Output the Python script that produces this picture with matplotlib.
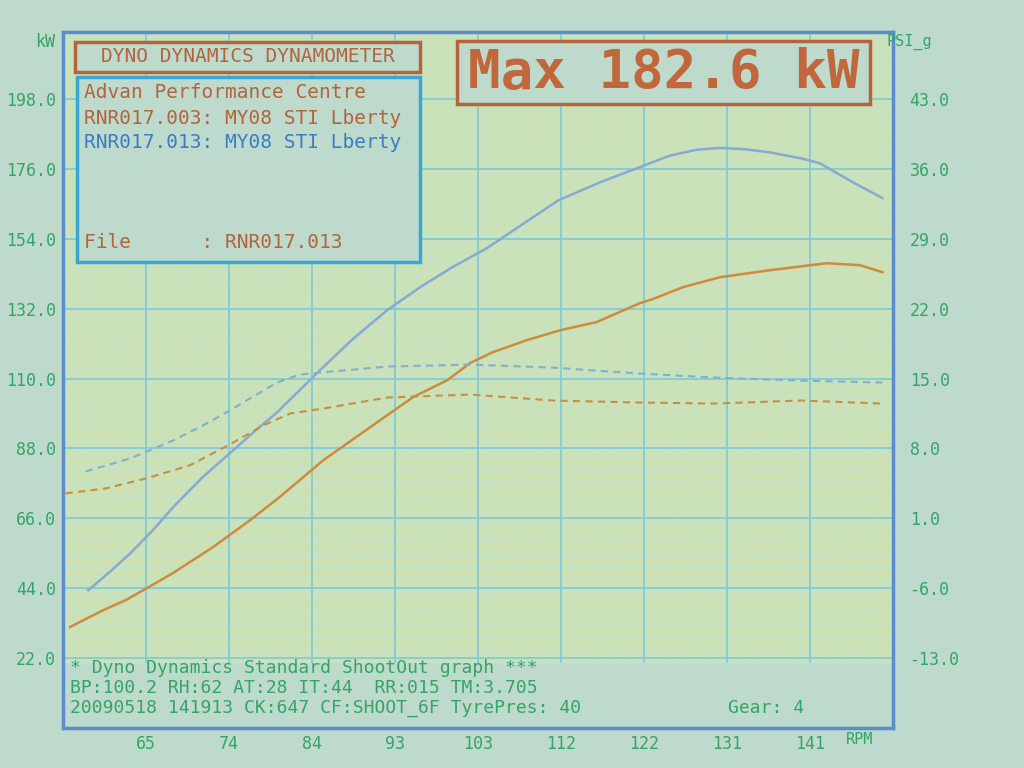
import matplotlib.pyplot as plt
from matplotlib.patches import Rectangle

# speed axis (labelled RPM on the dyno sheet)
x_ticks = [65, 74.5, 84, 93.5, 103, 112.5, 122, 131.5, 141]
x_labels = ['65', '74', '84', '93', '103', '112', '122', '131', '141']
kw_ticks = [22, 44, 66, 88, 110, 132, 154, 176, 198]
psi_ticks = [-13, -6, 1, 8, 15, 22, 29, 36, 43]

# run RNR017.013 (blue) - power kW
blue_x = [58.4, 61.0, 63.2, 65.8, 68.1, 71.5, 74.6, 77.6, 79.9, 82.1, 84.9, 88.7, 92.6,
          96.4, 100.1, 104.0, 107.8, 112.2, 117.0, 121.0, 125.0, 128.0, 130.7, 133.5,
          136.4, 140.0, 142.1, 145.9, 149.3]
blue_kw = [43.4, 49.5, 55.0, 62.3, 69.5, 79.0, 86.5, 93.8, 99.1, 105.0, 112.6, 122.5, 131.5,
           138.8, 145.1, 151.0, 158.0, 166.1, 171.8, 176.0, 180.2, 182.0, 182.6, 182.2,
           181.2, 179.3, 177.8, 171.8, 166.8]

# run RNR017.003 (orange) - power kW
orange_x = [56.3, 60.1, 62.7, 64.7, 68.1, 72.7, 76.9, 80.3, 85.3, 91.8, 95.6, 99.5,
            102.1, 104.7, 108.6, 112.4, 116.6, 121.5, 123.0, 126.5, 130.7, 136.4, 142.9,
            146.7, 149.3]
orange_kw = [31.8, 37.1, 40.3, 43.4, 48.8, 57.0, 65.4, 72.7, 84.3, 96.9, 104.2, 109.5,
             114.9, 118.3, 122.1, 125.2, 127.8, 133.7, 135.0, 138.8, 141.9, 144.1, 146.3,
             145.7, 143.5]

# boost PSI_g (dashed)
blue_boost_x = [58.1, 63.2, 68.1, 71.5, 74.6, 76.1, 80.0, 82.6, 84.9, 92.6, 102.1,
                111.6, 121.5, 130.2, 139.9, 149.3]
blue_boost = [5.7, 7.0, 8.8, 10.3, 11.8, 12.6, 14.6, 15.4, 15.6, 16.2, 16.4,
              16.1, 15.5, 15.1, 14.8, 14.6]
orange_boost_x = [55.8, 60.4, 65.0, 70.0, 74.6, 78.4, 81.5, 85.3, 92.6, 102.1,
                  111.6, 121.5, 130.2, 139.9, 149.3]
orange_boost = [3.5, 4.0, 5.0, 6.3, 8.4, 10.3, 11.5, 12.0, 13.1, 13.4,
                12.8, 12.6, 12.5, 12.8, 12.5]

bg = '#bddacd'
plot_bg = '#c9e2bb'
green = '#34a468'
brown = '#b5633a'
blue_txt = '#3c7cc2'
frame = '#5b8ccc'
mono = 'DejaVu Sans Mono'


def kw_to_psi(v):
    return (v - 22) * 7 / 22 - 13


fig = plt.figure(figsize=(10.24, 7.68), dpi=100, facecolor=bg)
ax = fig.add_axes([0.0615, 0.052, 0.8105, 0.906])
ax.set_facecolor(plot_bg)
ax.set_xlim(55.5, 150.5)
ax.set_ylim(0, 219)

# grid
for v in range(1, 50):
    ax.axhline(v * 4.4, color='#dcdf8c', lw=1, ls=(0, (2, 2)), zorder=0.5)
for v in kw_ticks:
    ax.axhline(v, color='#80cbd8', lw=1.3, zorder=0.6)
for v in x_ticks:
    ax.axvline(v, color='#80cbd8', lw=1.3, zorder=0.6)
# plain strip behind the info text
ax.add_patch(Rectangle((55.5, 0), 95, 20.5, facecolor=bg, edgecolor='none', zorder=0.8))

ax.plot(blue_x, blue_kw, color='#86aad4', lw=1.8, zorder=3)
ax.plot(orange_x, orange_kw, color='#cf8a3e', lw=1.8, zorder=3)

ax.set_xticks(x_ticks)
ax.set_xticklabels(x_labels, family=mono, fontsize=12, color=green)
ax.set_yticks(kw_ticks)
ax.set_yticklabels([f'{v:.1f}' for v in kw_ticks], family=mono, fontsize=12, color=green)
ax.tick_params(length=0, pad=5)
for s in ax.spines.values():
    s.set_color(frame)
    s.set_linewidth(2.5)

ax2 = ax.twinx()
ax2.set_ylim(kw_to_psi(0), kw_to_psi(219))
ax2.plot(blue_boost_x, blue_boost, color='#84aed2', lw=1.5, ls=(0, (3.5, 2.5)), zorder=3)
ax2.plot(orange_boost_x, orange_boost, color='#c8903e', lw=1.5, ls=(0, (3.5, 2.5)), zorder=3)
ax2.set_yticks(psi_ticks)
ax2.set_yticklabels([f'{v:.1f}' for v in psi_ticks], family=mono, fontsize=12, color=green)
ax2.tick_params(length=0, pad=12)
for s in ax2.spines.values():
    s.set_visible(False)

# axis captions
fig.text(0.044, 0.945, 'kW', family=mono, fontsize=12, color=green, ha='center', va='center')
fig.text(0.866, 0.945, 'PSI_g', family=mono, fontsize=11, color=green, ha='left', va='center')
fig.text(0.826, 0.037, 'RPM', family=mono, fontsize=11, color=green, ha='left', va='center')

# title box
fig.patches.append(Rectangle((75 / 1024, 1 - 72 / 768), 345 / 1024, 30 / 768, transform=fig.transFigure,
                             facecolor=bg, edgecolor=brown, lw=2.5, zorder=5))
fig.text(248 / 1024, 1 - 57 / 768, 'DYNO DYNAMICS DYNAMOMETER', family=mono, fontsize=14,
         color=brown, ha='center', va='center', zorder=6)

# info box
fig.patches.append(Rectangle((77 / 1024, 1 - 262 / 768), 343 / 1024, 185 / 768, transform=fig.transFigure,
                             facecolor=bg, edgecolor='#3aa6d4', lw=2.5, zorder=5))
info = [('Advan Performance Centre', brown, 92),
        ('RNR017.003: MY08 STI Lberty', brown, 119),
        ('RNR017.013: MY08 STI Lberty', blue_txt, 143),
        ('File      : RNR017.013', brown, 243)]
for txt, col, yy in info:
    fig.text(84 / 1024, 1 - yy / 768, txt, family=mono, fontsize=14, color=col,
             ha='left', va='center', zorder=6)

# max box
fig.patches.append(Rectangle((457 / 1024, 1 - 104 / 768), 413 / 1024, 63 / 768, transform=fig.transFigure,
                             facecolor=bg, edgecolor=brown, lw=2.5, zorder=5))
fig.text(664 / 1024, 1 - 73 / 768, 'Max 182.6 kW', family=mono, fontsize=39, fontweight='bold',
         color='#c0673c', ha='center', va='center', zorder=6)

# run info lines
lines = ['* Dyno Dynamics Standard ShootOut graph ***',
         'BP:100.2 RH:62 AT:28 IT:44  RR:015 TM:3.705',
         '20090518 141913 CK:647 CF:SHOOT_6F TyrePres: 40']
for i, txt in enumerate(lines):
    fig.text(70 / 1024, 1 - (668 + i * 20) / 768, txt, family=mono, fontsize=13,
             color=green, ha='left', va='center')
fig.text(728 / 1024, 1 - 708 / 768, 'Gear: 4', family=mono, fontsize=13, color=green,
         ha='left', va='center')

fig.savefig('out.png', dpi=100, facecolor=bg)
